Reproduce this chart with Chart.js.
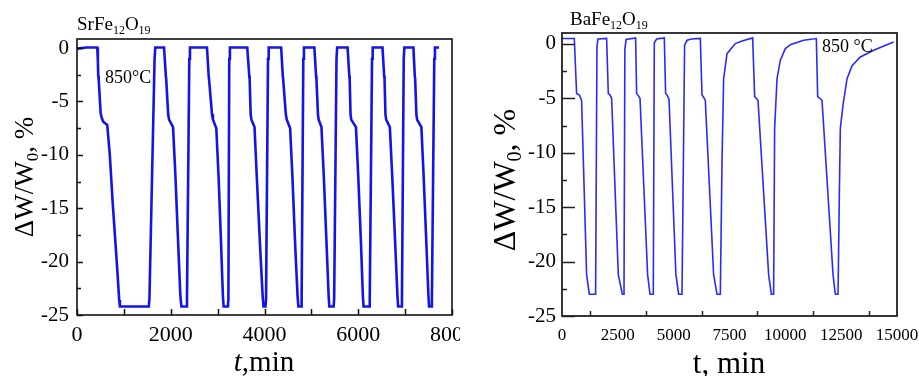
<!DOCTYPE html>
<html>
<head>
<meta charset="utf-8">
<script src="https://cdn.jsdelivr.net/npm/chart.js@4"></script>
<style>
  body { margin: 0; background: #fff; width: 919px; height: 376px; overflow: hidden; position: relative; }
  .panel { position: absolute; top: 0; height: 376px; }
</style>
</head>
<body>
<div class="panel" style="left:0;width:460px"><canvas id="graphSr" width="460" height="376"></canvas></div>
<div class="panel" style="left:460px;width:459px"><canvas id="graphBa" width="459" height="376"></canvas></div>
<script>
// SrFe12O19 - tiempo (min) y perdida de masa (%)
var srTime = [0, 200, 432, 445, 453, 462, 505, 525, 560, 645, 700, 760, 857, 900, 915, 1532, 1545, 1655, 1670,
  1857, 1895, 1903, 1945, 1964, 2049, 2100, 2160, 2205, 2227, 2334, 2346, 2396, 2410,
  2773, 2809, 2817, 2880, 2900, 2972, 3020, 3075, 3112, 3128, 3220, 3230, 3248, 3262,
  3632, 3675, 3683, 3705, 3720, 3787, 3835, 3905, 3960, 3979, 4021, 4033, 4075, 4090,
  4355, 4390, 4398, 4455, 4475, 4547, 4595, 4655, 4705, 4723, 4781, 4792, 4828, 4842,
  5064, 5100, 5108, 5140, 5155, 5215, 5265, 5325, 5368, 5383, 5475, 5486, 5536, 5550,
  5772, 5809, 5817, 5835, 5850, 5951, 6000, 6060, 6098, 6113, 6234, 6245, 6294, 6308,
  6517, 6553, 6561, 6580, 6595, 6674, 6725, 6790, 6836, 6851, 6921, 6932, 6970, 6984,
  7177, 7206, 7214, 7240, 7255, 7347, 7395, 7455, 7497, 7511, 7560, 7571, 7622, 7636, 7723]
var srWeight = [-0.05, 0.05, 0.05, -1.2, -2.6, -2.9, -6.1, -6.5, -6.9, -7.2, -10.0, -14.4, -20.6, -23.6, -24.2, -24.2, -23.5, -1.0, 0.05,
  0.05, -2.6, -2.9, -6.2, -6.7, -7.4, -12, -18.5, -23.2, -24.2, -24.2, -23.5, -1.0, 0.05,
  0.05, -2.6, -2.9, -6.2, -6.7, -7.5, -12, -18.5, -23.2, -24.2, -24.2, -23.5, -1.0, 0.05,
  0.05, -2.6, -2.9, -6.2, -6.7, -7.4, -12, -18.5, -23.2, -24.2, -24.2, -23.5, -1.0, 0.05,
  0.05, -2.6, -2.9, -6.2, -6.7, -7.5, -12, -18.5, -23.2, -24.2, -24.2, -23.5, -1.0, 0.05,
  0.05, -2.6, -2.9, -6.2, -6.7, -7.4, -12, -18.5, -23.2, -24.2, -24.2, -23.5, -1.0, 0.05,
  0.05, -2.6, -2.9, -6.2, -6.7, -7.4, -12, -18.5, -23.2, -24.2, -24.2, -23.5, -1.0, 0.05,
  0.05, -2.6, -2.9, -6.2, -6.7, -7.4, -12, -18.5, -23.2, -24.2, -24.2, -23.5, -1.0, 0.05,
  0.05, -2.6, -2.9, -6.2, -6.7, -7.4, -12, -18.5, -23.2, -24.2, -24.2, -23.5, -1.0, 0.05, 0.05]

// BaFe12O19
var baTime = [0, 551, 654, 780, 878, 1102, 1222, 1505, 1565, 1610,
  1998, 2073, 2150, 2222, 2521, 2700, 2776, 2815, 2870,
  3296, 3341, 3420, 3493, 3833, 3941, 4088, 4133, 4237,
  4581, 4640, 4720, 4792, 5100, 5222, 5373, 5490, 5598, 5800,
  6193, 6269, 6340, 6417, 6789, 6941, 7089, 7165, 7237, 7389, 7761, 8060,
  8536, 8627, 8700, 8777, 9252, 9373, 9476, 9521, 9628, 9776, 10000, 10250, 10820,
  11388, 11448, 11545, 11643, 12136, 12239, 12360, 12418, 12463, 12584, 12763, 12987, 13359, 13955, 14851]
var baWeight = [0.5, 0.5, -4.55, -4.7, -5.2, -21.2, -23.0, -23.0, -0.3, 0.45,
  0.5, -4.55, -4.7, -5.0, -21.2, -23.0, -23.0, -0.5, 0.4,
  0.55, -4.55, -4.75, -5.0, -21.2, -23.0, -23.0, 0.1, 0.45,
  0.55, -4.55, -4.75, -5.1, -21.2, -23.0, -23.0, -0.13, 0.33, 0.45,
  0.5, -4.7, -4.9, -5.2, -21.2, -23.0, -23.0, -10.8, -3.2, -0.9, 0.03, 0.27,
  0.55, -4.85, -5.0, -5.2, -21.2, -23.0, -23.0, -7.75, -3.2, -1.5, -0.43, -0.05, 0.33,
  0.49, -4.85, -5.0, -5.2, -21.2, -23.0, -23.0, -13.9, -7.75, -5.6, -3.2, -2.0, -1.2, -0.58, 0.18]

var serif = "'Liberation Serif', 'Times New Roman', serif"

function toPoints(xs, ys) {
  return xs.map(function (t, i) { return { x: t, y: ys[i] } })
}

function onStep(v, step) {
  var r = v / step
  return Math.abs(r - Math.round(r)) < 1e-6
}

// texto con subindices: parts = [[texto, 'sub'|'it'|'']]
function drawRich(ctx, x, y, parts, size, align) {
  var subSize = Math.round(size * 0.62)
  var widths = parts.map(function (p) {
    ctx.font = (p[1] === 'it' ? 'italic ' : '') + (p[1] === 'sub' ? subSize : size) + 'px ' + serif
    return ctx.measureText(p[0]).width
  })
  var total = widths.reduce(function (a, b) { return a + b }, 0)
  var cx = align === 'center' ? x - total / 2 : x
  ctx.textAlign = 'left'
  ctx.textBaseline = 'alphabetic'
  parts.forEach(function (p, i) {
    ctx.font = (p[1] === 'it' ? 'italic ' : '') + (p[1] === 'sub' ? subSize : size) + 'px ' + serif
    ctx.fillText(p[0], cx, p[1] === 'sub' ? y + size * 0.2 : y)
    cx += widths[i]
  })
}

// marco, ticks hacia adentro y textos
var decor = {
  id: 'decor',
  afterDraw: function (chart, args, o) {
    var ctx = chart.ctx
    var a = chart.chartArea
    var sx = chart.scales.x
    var sy = chart.scales.y
    ctx.save()
    ctx.strokeStyle = o.frameColor
    ctx.lineWidth = o.frameWidth
    ctx.strokeRect(a.left, a.top, a.right - a.left, a.bottom - a.top)

    ctx.lineWidth = o.tickWidth
    sy.ticks.forEach(function (t) {
      if (!onStep(t.value, o.yMinor)) return
      var len = onStep(t.value, o.yMajor) ? o.yMajorLen : o.yMinorLen
      var p = Math.round(sy.getPixelForValue(t.value)) + 0.5
      ctx.beginPath(); ctx.moveTo(a.left, p); ctx.lineTo(a.left + len, p); ctx.stroke()
    })
    sx.ticks.forEach(function (t) {
      if (!onStep(t.value, o.xMinor)) return
      var len = onStep(t.value, o.xMajor) ? o.xMajorLen : o.xMinorLen
      if (!len) return
      var p = Math.round(sx.getPixelForValue(t.value)) + 0.5
      ctx.beginPath(); ctx.moveTo(p, a.bottom); ctx.lineTo(p, a.bottom - len); ctx.stroke()
    })

    ctx.fillStyle = '#000'
    drawRich(ctx, o.formula.x, o.formula.y, o.formula.parts, o.formula.size, 'left')
    drawRich(ctx, o.temp.x, o.temp.y, [[o.temp.text, '']], o.temp.size, 'left')
    drawRich(ctx, o.xTitle.x, o.xTitle.y, o.xTitle.parts, o.xTitle.size, 'center')

    ctx.save()
    ctx.translate(o.yTitle.x, o.yTitle.y)
    ctx.rotate(-Math.PI / 2)
    drawRich(ctx, 0, 0, [['\u0394W/W', ''], ['0', 'sub'], [', %', '']], o.yTitle.size, 'center')
    ctx.restore()
    ctx.restore()
  }
}

function createChart(id, xs, ys, cfg) {
  var ctx = document.getElementById(id).getContext('2d')
  return new Chart(ctx, {
    type: 'line',
    data: {
      datasets: [{
        data: toPoints(xs, ys),
        borderColor: cfg.color,
        borderWidth: cfg.lineWidth,
        pointRadius: 0,
        tension: 0,
        fill: false
      }]
    },
    options: {
      responsive: false,
      animation: false,
      devicePixelRatio: 1,
      layout: { padding: cfg.padding },
      plugins: { legend: { display: false }, tooltip: { enabled: false }, decor: cfg.decor },
      scales: {
        x: {
          type: 'linear',
          min: 0,
          max: cfg.xMax,
          grid: { display: false, drawTicks: false },
          border: { display: false },
          ticks: {
            stepSize: cfg.decor.xMinor,
            autoSkip: false,
            includeBounds: false,
            maxRotation: 0,
            padding: cfg.xPad,
            color: '#000',
            font: { family: serif, size: cfg.xFont },
            callback: function (v) { return onStep(v, cfg.xLabelStep) ? String(v) : '' }
          },
          afterFit: function (s) { s.height = cfg.xHeight; s.paddingLeft = 0; s.paddingRight = 0 }
        },
        y: {
          min: -25,
          max: cfg.yMax,
          grid: { display: false, drawTicks: false },
          border: { display: false },
          ticks: {
            stepSize: 2.5,
            autoSkip: false,
            includeBounds: false,
            padding: cfg.yPad,
            color: '#000',
            font: { family: serif, size: cfg.yFont },
            callback: function (v) { return onStep(v, 5) ? String(v) : '' }
          },
          afterFit: function (s) { s.width = cfg.yWidth; s.paddingTop = 0; s.paddingBottom = 0 }
        }
      }
    },
    plugins: [decor]
  })
}

createChart('graphSr', srTime, srWeight, {
  color: '#1414e6', lineWidth: 2.6,
  padding: { left: 0, right: 8, top: 39, bottom: 0 },
  xMax: 8000, yMax: 0.85, xLabelStep: 2000,
  xHeight: 61, yWidth: 77, xPad: 7, yPad: 8, xFont: 22, yFont: 21,
  decor: {
    frameColor: '#111', frameWidth: 1.6, tickWidth: 1.5,
    yMinor: 2.5, yMajor: 5, yMajorLen: 6, yMinorLen: 4,
    xMinor: 1000, xMajor: 2000, xMajorLen: 6, xMinorLen: 6,
    formula: { x: 77, y: 30, size: 19, parts: [['SrFe', ''], ['12', 'sub'], ['O', ''], ['19', 'sub']] },
    temp: { x: 105, y: 83, size: 18, text: '850\u00b0C' },
    xTitle: { x: 264, y: 371, size: 29, parts: [['t', 'it'], [',min', '']] },
    yTitle: { x: 33, y: 177, size: 27 }
  }
})

createChart('graphBa', baTime, baWeight, {
  color: '#2a2aff', lineWidth: 1.6,
  padding: { left: 0, right: 22, top: 33, bottom: 0 },
  xMax: 15000, yMax: 1, xLabelStep: 2500,
  xHeight: 60, yWidth: 102, xPad: 9, yPad: 6, xFont: 17, yFont: 21,
  decor: {
    frameColor: '#222', frameWidth: 1.8, tickWidth: 1.5,
    yMinor: 2.5, yMajor: 5, yMajorLen: 13, yMinorLen: 5,
    xMinor: 1250, xMajor: 2500, xMajorLen: 0, xMinorLen: 5,
    formula: { x: 110, y: 25, size: 19, parts: [['BaFe', ''], ['12', 'sub'], ['O', ''], ['19', 'sub']] },
    temp: { x: 362, y: 52, size: 18, text: '850 \u00b0C' },
    xTitle: { x: 269, y: 373, size: 31, parts: [['t, min', '']] },
    yTitle: { x: 55, y: 180, size: 32 }
  }
})
</script>
</body>
</html>
